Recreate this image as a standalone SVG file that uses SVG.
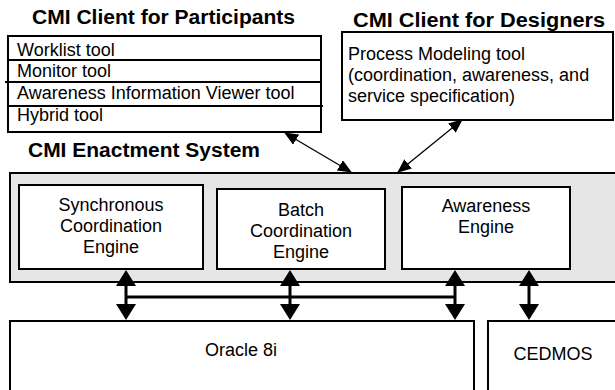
<svg xmlns="http://www.w3.org/2000/svg" width="615" height="390" viewBox="0 0 615 390">
  <style>
    .box { fill: #ffffff; stroke: #000000; stroke-width: 2; }
    .gray { fill: #e6e6e6; stroke: #000000; stroke-width: 2; }
    .div { stroke: #000000; stroke-width: 2; fill: none; }
    .t { font-family: "Liberation Sans", Arial, Helvetica, sans-serif; font-size: 18px; fill: #000000; }
    .c { text-anchor: middle; }
    .title { font-family: "Liberation Sans", Arial, Helvetica, sans-serif; font-size: 19.5px; font-weight: bold; fill: #000000; }
    .thin { stroke: #000000; stroke-width: 1.3; fill: none; marker-start: url(#thinHead); marker-end: url(#thinHead); }
    .thick { stroke: #000000; stroke-width: 3; fill: none; }
    .thickArrow { stroke: #000000; stroke-width: 3; fill: none; marker-start: url(#thickHead); marker-end: url(#thickHead); }
  </style>
  <defs>
    <marker id="thinHead" viewBox="0 0 14 12" refX="13" refY="6" markerWidth="14" markerHeight="12" markerUnits="userSpaceOnUse" orient="auto-start-reverse">
      <path d="M0,0 L14,6 L0,12 z" fill="#000000"/>
    </marker>
    <marker id="thickHead" viewBox="0 0 16 20" refX="13" refY="10" markerWidth="16" markerHeight="20" markerUnits="userSpaceOnUse" orient="auto-start-reverse">
      <path d="M0,0 L16,10 L0,20 z" fill="#000000"/>
    </marker>
  </defs>

  <g id="participants">
    <text class="title" x="32" y="24" textLength="263" lengthAdjust="spacingAndGlyphs">CMI Client for Participants</text>
    <rect class="box" x="8" y="36" width="313" height="96"/>
    <line class="div" x1="8" y1="60" x2="321" y2="60"/>
    <line class="div" x1="5" y1="82" x2="321" y2="82"/>
    <line class="div" x1="8" y1="106" x2="323" y2="106"/>
    <text class="t" x="17" y="56">Worklist tool</text>
    <text class="t" x="17" y="77">Monitor tool</text>
    <text class="t" x="17" y="99">Awareness Information Viewer tool</text>
    <text class="t" x="17" y="121">Hybrid tool</text>
  </g>

  <g id="designers">
    <text class="title" x="353" y="26.5" textLength="252" lengthAdjust="spacingAndGlyphs">CMI Client for Designers</text>
    <rect class="box" x="342" y="32" width="271" height="88"/>
    <text class="t" x="348" y="60">Process Modeling tool</text>
    <text class="t" x="348" y="81">(coordination, awareness, and</text>
    <text class="t" x="348" y="102">service specification)</text>
  </g>

  <g id="enactment">
    <text class="title" x="28" y="157" textLength="232" lengthAdjust="spacingAndGlyphs">CMI Enactment System</text>
    <rect class="gray" x="10" y="173" width="620" height="109"/>
  </g>

  <g id="sync-engine">
    <rect class="box" x="19" y="185" width="184" height="84"/>
    <text class="t c" x="111" y="211">Synchronous</text>
    <text class="t c" x="111" y="232">Coordination</text>
    <text class="t c" x="111" y="253">Engine</text>
  </g>

  <g id="batch-engine">
    <rect class="box" x="217" y="189" width="168" height="80"/>
    <text class="t c" x="301" y="216">Batch</text>
    <text class="t c" x="301" y="237">Coordination</text>
    <text class="t c" x="301" y="258">Engine</text>
  </g>

  <g id="awareness-engine">
    <rect class="box" x="402" y="187" width="168" height="82"/>
    <text class="t c" x="486" y="212">Awareness</text>
    <text class="t c" x="486" y="233">Engine</text>
  </g>

  <g id="oracle">
    <rect class="box" x="10" y="321" width="464" height="100"/>
    <text class="t c" x="241" y="356">Oracle 8i</text>
  </g>

  <g id="cedmos">
    <rect class="box" x="488" y="321" width="150" height="100"/>
    <text class="t c" x="553" y="360">CEDMOS</text>
  </g>

  <g id="connectors">
    <line class="thin" x1="285" y1="133" x2="351" y2="172"/>
    <line class="thin" x1="462" y1="120" x2="398" y2="172"/>
    <line class="thick" x1="126" y1="297" x2="455" y2="297"/>
    <line class="thickArrow" x1="126" y1="273" x2="126" y2="317"/>
    <line class="thickArrow" x1="290" y1="273" x2="290" y2="317"/>
    <line class="thickArrow" x1="455" y1="273" x2="455" y2="317"/>
    <line class="thickArrow" x1="529" y1="273" x2="529" y2="317"/>
  </g>
</svg>
